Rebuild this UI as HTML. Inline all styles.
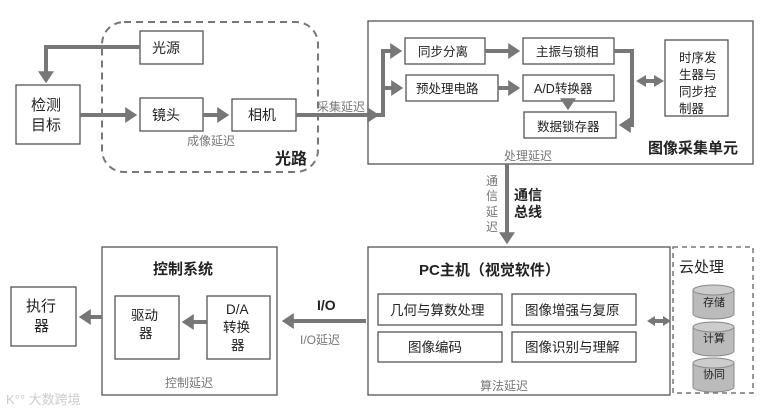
<!DOCTYPE html>
<html><head><meta charset="utf-8"><style>
html,body{margin:0;padding:0;background:#fff;}
svg text{font-family:"Liberation Sans","Noto Sans CJK SC",sans-serif;fill:#222;}
</style></head><body>
<svg width="761" height="411" viewBox="0 0 761 411" xmlns="http://www.w3.org/2000/svg">
<defs>
<marker id="a" markerWidth="4" markerHeight="4" refX="2.2" refY="2" orient="auto" markerUnits="strokeWidth"><path d="M0,0 L3,2 L0,4 Z" fill="#777"/></marker>
</defs>
<g fill="none" stroke="#555" stroke-width="1.3">
<rect x="102" y="22" width="216" height="150" rx="22" stroke="#777" stroke-width="2" stroke-dasharray="7,5"/>
<rect x="140" y="31" width="63" height="33"/>
<rect x="16" y="85" width="64" height="59"/>
<rect x="140" y="98" width="63" height="33"/>
<rect x="232" y="99" width="64" height="32"/>
<rect x="368" y="21" width="385" height="143"/>
<rect x="405" y="38" width="80" height="26"/>
<rect x="406" y="75" width="92" height="26"/>
<rect x="523" y="38" width="91" height="26"/>
<rect x="523" y="75" width="91" height="26"/>
<rect x="524" y="112" width="92" height="26"/>
<rect x="665" y="40" width="63" height="76"/>
<rect x="11" y="287" width="65" height="59"/>
<rect x="102" y="247" width="175" height="148"/>
<rect x="115" y="296" width="64" height="63"/>
<rect x="207" y="296" width="63" height="63"/>
<rect x="368" y="247" width="302" height="148"/>
<rect x="378" y="294" width="124" height="31"/>
<rect x="512" y="294" width="124" height="31"/>
<rect x="378" y="332" width="124" height="30"/>
<rect x="512" y="332" width="124" height="30"/>
<rect x="673" y="247" width="80" height="146" stroke="#777" stroke-dasharray="5,4" stroke-width="1.5"/>
</g>
<g fill="#bbb" stroke="#888" stroke-width="1">
<path d="M693,290 v24 a20.5,5 0 0 0 41,0 v-24"/><ellipse cx="713.5" cy="290" rx="20.5" ry="5" fill="#ccc"/>
<path d="M693,327 v24 a20.5,5 0 0 0 41,0 v-24"/><ellipse cx="713.5" cy="327" rx="20.5" ry="5" fill="#ccc"/>
<path d="M693,363 v24 a20.5,5 0 0 0 41,0 v-24"/><ellipse cx="713.5" cy="363" rx="20.5" ry="5" fill="#ccc"/>
</g>
<g fill="none" stroke="#777" stroke-width="4">
<path d="M140,47 H46 V80" marker-end="url(#a)"/>
<path d="M80,115 H134" marker-end="url(#a)"/>
<path d="M203,115 H226" marker-end="url(#a)"/>
<path d="M296,115 H376" marker-end="url(#a)"/>
<path d="M376,115 H383 V51 H399" marker-end="url(#a)"/>
<path d="M383,88 H400" marker-end="url(#a)"/>
<path d="M485,51 H517" marker-end="url(#a)"/>
<path d="M498,88 H517" marker-end="url(#a)"/>
<path d="M568,101 V107" marker-end="url(#a)"/>
<path d="M614,51 H632 V125 H622" marker-end="url(#a)"/>
<path d="M645,81 H656"/>
<path d="M507,164 V241" marker-end="url(#a)"/>
<path d="M366,321 H285" marker-end="url(#a)"/>
<path d="M207,322 H185" marker-end="url(#a)"/>
<path d="M102,317 H82" marker-end="url(#a)"/>
<path d="M654,321 H663"/>
</g>
<g fill="#777">
<path d="M636,81 L646,75 L646,87 Z"/><path d="M664,81 L654,75 L654,87 Z"/>
<path d="M647,321 L655,316 L655,326 Z"/><path d="M671,321 L663,316 L663,326 Z"/>
</g>
<g font-size="14">
<text x="152" y="53">光源</text>
<text x="152" y="120">镜头</text>
<text x="248" y="120">相机</text>
<text x="31" y="110" font-size="15">检测</text>
<text x="31" y="130" font-size="15">目标</text>
</g>
<g font-size="12.5">
<text x="418" y="56">同步分离</text>
<text x="416" y="93">预处理电路</text>
<text x="536" y="56">主振与锁相</text>
<text x="534" y="93">A/D转换器</text>
<text x="537" y="131">数据锁存器</text>
<text x="679" y="62">时序发</text>
<text x="679" y="79">生器与</text>
<text x="679" y="96">同步控</text>
<text x="679" y="113">制器</text>
</g>
<g font-size="12">
<text x="317" y="111" style="fill:#777">采集延迟</text>
<text x="187" y="145" style="fill:#777">成像延迟</text>
<text x="504" y="160" style="fill:#777">处理延迟</text>
<text x="486" y="185" style="fill:#777">通</text>
<text x="486" y="200" style="fill:#777">信</text>
<text x="486" y="216" style="fill:#777">延</text>
<text x="486" y="231" style="fill:#777">迟</text>
<text x="300" y="344" style="fill:#777">I/O延迟</text>
<text x="165" y="387" style="fill:#777">控制延迟</text>
<text x="480" y="390" style="fill:#777">算法延迟</text>
</g>
<g font-weight="bold">
<text x="275" y="164" font-size="16">光路</text>
<text x="648" y="153" font-size="15">图像采集单元</text>
<text x="514" y="200" font-size="14">通信</text>
<text x="514" y="217" font-size="14">总线</text>
<text x="153" y="274" font-size="15">控制系统</text>
<text x="419" y="275" font-size="15">PC主机（视觉软件）</text>
<text x="317" y="310" font-size="14">I/O</text>
</g>
<g font-size="15">
<text x="26" y="311">执行</text>
<text x="34" y="331">器</text>
<text x="679" y="272">云处理</text>
</g>
<g font-size="13.5">
<text x="131" y="320">驱动</text>
<text x="139" y="338">器</text>
<text x="226" y="314">D/A</text>
<text x="223" y="332">转换</text>
<text x="231" y="350">器</text>
<text x="390" y="315">几何与算数处理</text>
<text x="525" y="315">图像增强与复原</text>
<text x="408" y="352">图像编码</text>
<text x="525" y="352">图像识别与理解</text>
</g>
<g font-size="11">
<text x="703" y="306">存储</text>
<text x="703" y="342">计算</text>
<text x="703" y="378">协同</text>
</g>
<text x="6" y="404" font-size="13" style="fill:#ccc">K°° 大数跨境</text>
</svg>
</body></html>
